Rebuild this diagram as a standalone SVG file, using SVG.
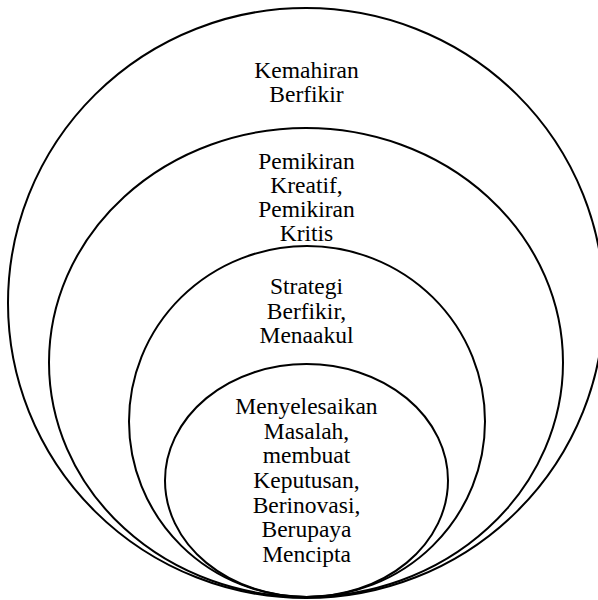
<svg xmlns="http://www.w3.org/2000/svg" width="598" height="600" viewBox="0 0 598 600">
<style>
.ring{fill:none;stroke:#000;stroke-width:2}
.lbl{font-family:"Times New Roman","Liberation Serif",Tinos,"DejaVu Serif",serif;font-size:23.5px;fill:#000;text-anchor:middle}
</style>
<rect x="0" y="0" width="598" height="600" fill="#fff"/>
<g id="kemahiran-berfikir">
<ellipse class="ring" cx="306" cy="303" rx="298" ry="295"/>
<text class="lbl" x="306.5" y="78.2">Kemahiran</text>
<text class="lbl" x="306.5" y="102.2">Berfikir</text>
</g>
<g id="pemikiran">
<ellipse class="ring" cx="306" cy="362.5" rx="257" ry="234.5"/>
<text class="lbl" x="306.5" y="168.6">Pemikiran</text>
<text class="lbl" x="306.5" y="192.8">Kreatif,</text>
<text class="lbl" x="306.5" y="217.2">Pemikiran</text>
<text class="lbl" x="306.5" y="241.4">Kritis</text>
</g>
<g id="strategi">
<ellipse class="ring" cx="307" cy="421.5" rx="178" ry="175.5"/>
<text class="lbl" x="306.5" y="294.4">Strategi</text>
<text class="lbl" x="306.5" y="318.6">Berfikir,</text>
<text class="lbl" x="306.5" y="343.2">Menaakul</text>
</g>
<g id="menyelesaikan">
<ellipse class="ring" cx="306.5" cy="480.5" rx="141.5" ry="116.5"/>
<text class="lbl" x="306.5" y="413.8">Menyelesaikan</text>
<text class="lbl" x="306.5" y="438.5">Masalah,</text>
<text class="lbl" x="306.5" y="463">membuat</text>
<text class="lbl" x="306.5" y="488">Keputusan,</text>
<text class="lbl" x="306.5" y="512.8">Berinovasi,</text>
<text class="lbl" x="306.5" y="537.2">Berupaya</text>
<text class="lbl" x="306.5" y="561.8">Mencipta</text>
</g>
</svg>
